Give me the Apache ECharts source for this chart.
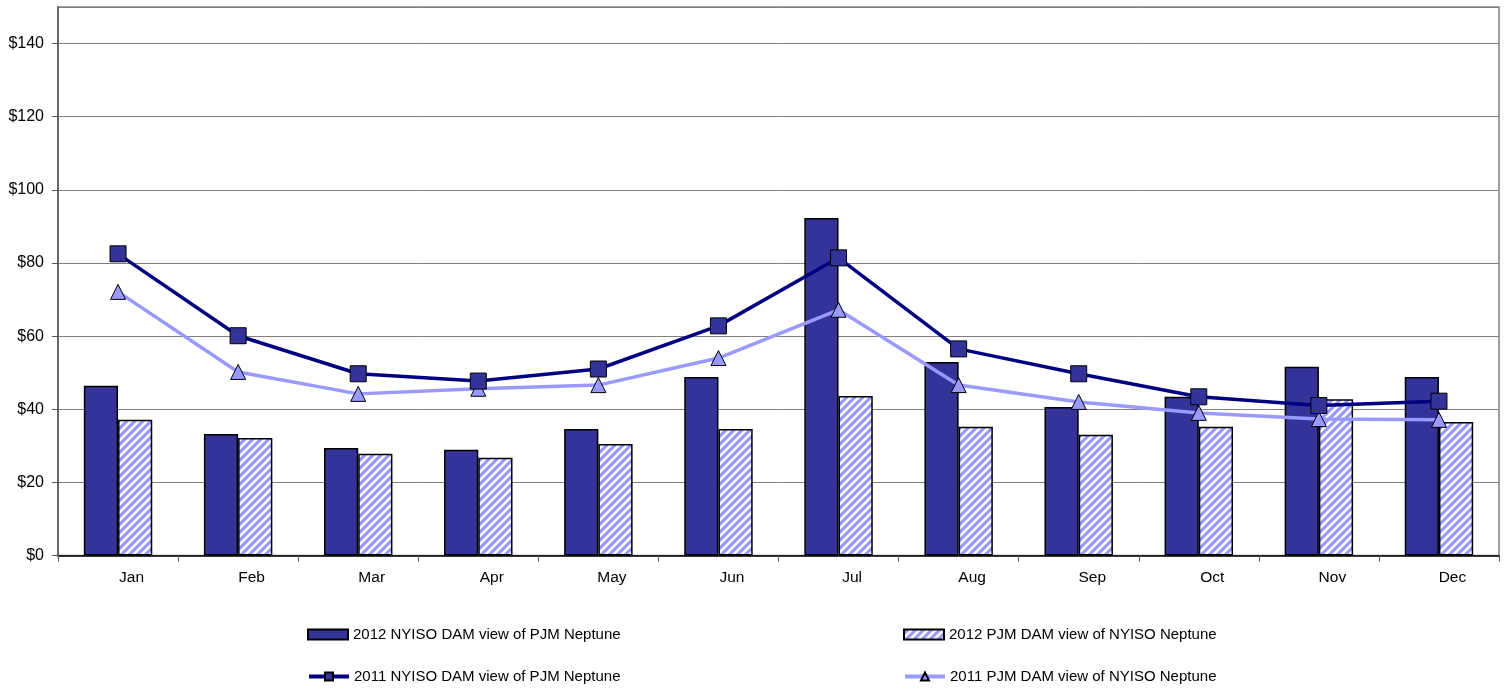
<!DOCTYPE html>
<html>
<head>
<meta charset="utf-8">
<script src="https://cdn.jsdelivr.net/npm/echarts@6/dist/echarts.min.js"></script>
<style>html,body{margin:0;padding:0;background:#fff}#c{width:1507px;height:698px}</style>
</head>
<body>
<div id="c"></div>
<script>
const months = ['Jan','Feb','Mar','Apr','May','Jun','Jul','Aug','Sep','Oct','Nov','Dec'];
const nyiso2012 = [46.4, 33.2, 29.4, 28.9, 34.6, 48.8, 92.3, 52.9, 40.6, 43.4, 51.6, 48.8];
const pjm2012 = [37.1, 32.1, 27.8, 26.7, 30.5, 34.6, 43.6, 35.2, 33.0, 35.2, 42.7, 36.5];
const nyiso2011 = [82.5, 60.1, 49.7, 47.7, 51.0, 62.8, 81.4, 56.5, 49.7, 43.4, 41.0, 42.2];
const pjm2011 = [72.1, 50.2, 44.2, 45.6, 46.6, 54.0, 67.2, 46.6, 42.0, 39.0, 37.3, 37.1];
const names = ['2012 NYISO DAM view of PJM Neptune','2012 PJM DAM view of NYISO Neptune','2011 NYISO DAM view of PJM Neptune','2011 PJM DAM view of NYISO Neptune'];

// hatch pattern
const pc = document.createElement('canvas');
pc.width = 8; pc.height = 8;
const g = pc.getContext('2d');
g.fillStyle = '#9999ff'; g.fillRect(0,0,8,8);
g.strokeStyle = '#ffffff'; g.lineWidth = 2.6;
g.beginPath();
for (let k = -2; k <= 2; k++) { g.moveTo(k*8 - 1, 9); g.lineTo(k*8 + 9, -1); }
g.stroke();
const hatch = {image: pc, repeat: 'repeat'};

const font = 'Liberation Sans, Arial, sans-serif';
const chart = echarts.init(document.getElementById('c'), null, {renderer: 'canvas'});
const legendBase = {orient:'horizontal', itemWidth:40, itemHeight:10, itemGap:3,
  textStyle:{fontFamily:font, fontSize:15, color:'#000'}, selectedMode:false};
chart.setOption({
  animation: false,
  grid: {left: 58, right: 8, top: 7, bottom: 142.5, show: true, borderColor: '#808080', borderWidth: 1.5},
  legend: [
    Object.assign({}, legendBase, {left: 302, top: 622, data: [{name: names[0], icon: 'rect'}]}),
    Object.assign({}, legendBase, {left: 898, top: 622, data: [{name: names[1], icon: 'rect'}]}),
    Object.assign({}, legendBase, {left: 302, top: 664, data: [{name: names[2], lineStyle: {width: 4}}]}),
    Object.assign({}, legendBase, {left: 898, top: 664, data: [{name: names[3], lineStyle: {width: 4}}]})
  ],
  xAxis: {
    type: 'category', data: months, boundaryGap: true,
    axisLine: {lineStyle: {color: '#000', width: 1.5}},
    axisTick: {show: true, length: 6, lineStyle: {color: '#555'}},
    axisLabel: {fontFamily: font, fontSize: 15.5, color: '#000', margin: 14, padding: [0, 0, 0, 27]}
  },
  yAxis: {
    type: 'value', min: 0, max: 150, interval: 20,
    axisLine: {show: true, lineStyle: {color: '#555', width: 1.5}},
    axisTick: {show: true, length: 6, lineStyle: {color: '#555'}},
    axisLabel: {fontFamily: font, fontSize: 16, color: '#000', margin: 14, showMaxLabel: false,
      formatter: v => (v % 20 === 0 ? '$' + v : '')},
    splitLine: {lineStyle: {color: '#808080', width: 1}}
  },
  series: [
    {name: names[0], type: 'bar', data: nyiso2012, barGap: '0%', barCategoryGap: '43%',
      itemStyle: {color: '#333399', borderColor: '#000', borderWidth: 1.5}},
    {name: names[1], type: 'bar', data: pjm2012, barGap: '0%', barCategoryGap: '43%',
      itemStyle: {color: hatch, borderColor: '#000', borderWidth: 1.5}},
    {name: names[2], type: 'line', data: nyiso2011, symbol: 'rect', symbolSize: 16,
      lineStyle: {color: '#000080', width: 3.5}, z: 5,
      itemStyle: {color: '#333399', borderColor: '#000', borderWidth: 1}},
    {name: names[3], type: 'line', data: pjm2011, symbol: 'triangle', symbolSize: 15,
      lineStyle: {color: '#9999ff', width: 3.5}, z: 4,
      itemStyle: {color: '#9999ff', borderColor: '#000', borderWidth: 1}}
  ]
});
</script>
</body>
</html>
